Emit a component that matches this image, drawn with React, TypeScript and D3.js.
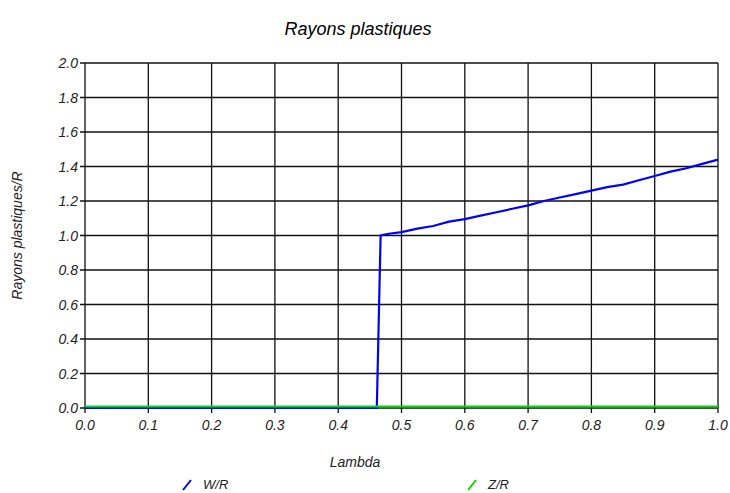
import React from "react";
import * as d3 from "d3";

const lambda = [0, 0.461, 0.467, 0.48, 0.5, 0.525, 0.55, 0.575, 0.6, 0.625, 0.65, 0.675, 0.7, 0.725, 0.75, 0.775, 0.8, 0.825, 0.85, 0.875, 0.9, 0.925, 0.95, 0.975, 1.0];
const wr = [0, 0, 1.0, 1.01, 1.02, 1.04, 1.055, 1.08, 1.095, 1.115, 1.135, 1.155, 1.175, 1.2, 1.22, 1.24, 1.26, 1.28, 1.295, 1.32, 1.345, 1.37, 1.39, 1.415, 1.44];
const zrLambda = [0, 1];
const zr = [0, 0];
const xTicks = [0, 0.1, 0.2, 0.3, 0.4, 0.5, 0.6, 0.7, 0.8, 0.9, 1.0];
const yTicks = [0, 0.2, 0.4, 0.6, 0.8, 1.0, 1.2, 1.4, 1.6, 1.8, 2.0];

const W = 730;
const H = 493;
const margin = { top: 63, right: 12, bottom: 85, left: 85 };
const font = "'Liberation Sans', Arial, sans-serif";

export default function App() {
  const x = d3.scaleLinear().domain([0, 1]).range([margin.left, W - margin.right]);
  const y = d3.scaleLinear().domain([0, 2]).range([H - margin.bottom, margin.top]);

  const line = d3
    .line<[number, number]>()
    .x((d) => x(d[0]))
    .y((d) => y(d[1]));

  const wrPath = line(lambda.map((l, i) => [l, wr[i]] as [number, number])) || "";
  const zrPath = line(zrLambda.map((l, i) => [l, zr[i]] as [number, number])) || "";

  return (
    <svg
      width={W}
      height={H}
      style={{ position: "absolute", left: 0, top: 0, background: "#fff" }}
      fontFamily={font}
      fontStyle="italic"
    >
      <text x={358} y={35} textAnchor="middle" fontSize={18}>
        Rayons plastiques
      </text>

      {/* grille */}
      {xTicks.map((t) => (
        <line key={"gx" + t} x1={x(t)} x2={x(t)} y1={y(2)} y2={y(0) + 5} stroke="#111" strokeWidth={1.3} />
      ))}
      {yTicks.map((t) => (
        <line key={"gy" + t} x1={x(0) - 5} x2={x(1)} y1={y(t)} y2={y(t)} stroke="#111" strokeWidth={1.3} />
      ))}

      {/* axes labels */}
      {xTicks.map((t) => (
        <text key={"lx" + t} x={x(t)} y={y(0) + 22} textAnchor="middle" fontSize={14} fill="#222">
          {t.toFixed(1)}
        </text>
      ))}
      {yTicks.map((t) => (
        <text key={"ly" + t} x={x(0) - 7} y={y(t) + 5} textAnchor="end" fontSize={14} fill="#222">
          {t.toFixed(1)}
        </text>
      ))}

      <path d={wrPath} fill="none" stroke="#0000ff" strokeWidth={2.2} />
      <path d={zrPath} fill="none" stroke="#00dd00" strokeWidth={2} transform="translate(0,-1.5)" />

      <text x={355} y={467} textAnchor="middle" fontSize={14} fill="#222">
        Lambda
      </text>
      <text
        transform={`translate(22,${(y(0) + y(2)) / 2}) rotate(-90)`}
        textAnchor="middle"
        fontSize={14}
        fill="#222"
      >
        Rayons plastiques/R
      </text>

      {/* légende */}
      <line x1={183} y1={490} x2={191} y2={480} stroke="#0000ff" strokeWidth={2} />
      <text x={203} y={489} fontSize={13} fill="#222">W/R</text>
      <line x1={468} y1={490} x2={476} y2={480} stroke="#00dd00" strokeWidth={2} />
      <text x={488} y={489} fontSize={13} fill="#222">Z/R</text>
    </svg>
  );
}
